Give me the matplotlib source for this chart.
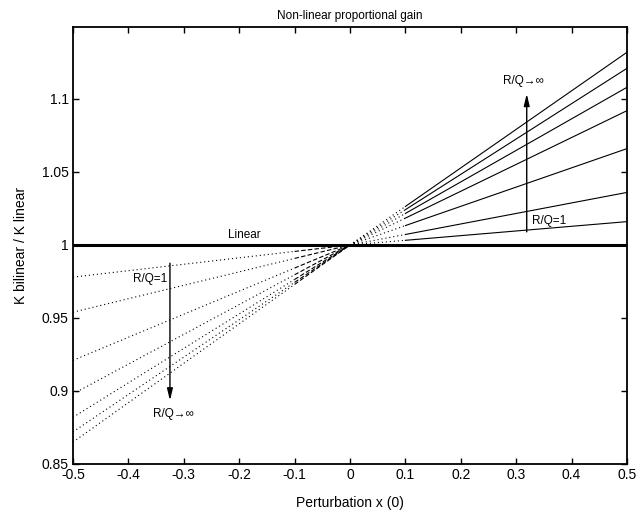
import matplotlib
matplotlib.use("Agg")
import matplotlib.pyplot as plt

plt.rcParams['font.family'] = ['Liberation Sans', 'DejaVu Sans']

# breakpoints along the perturbation axis
x_points = [-0.5, -0.1, 0.0, 0.1, 0.5]
# gain ratio of each curve (R/Q = 1 ... R/Q -> inf)
k_left_end = [0.978, 0.954, 0.921, 0.898, 0.882, 0.872, 0.865]   # x = -0.5
k_left_mid = [0.9956, 0.9908, 0.9842, 0.9796, 0.9764, 0.9744, 0.9730]  # x = -0.1
k_center = [1.0, 1.0, 1.0, 1.0, 1.0, 1.0, 1.0]                  # x = 0
k_right_mid = [1.0032, 1.0072, 1.0133, 1.0184, 1.0216, 1.0242, 1.0264]  # x = 0.1
k_right_end = [1.016, 1.036, 1.066, 1.092, 1.108, 1.121, 1.132]   # x = 0.5
linear_value = 1.0

x_ticks = [-0.5, -0.4, -0.3, -0.2, -0.1, 0, 0.1, 0.2, 0.3, 0.4, 0.5]
x_tick_labels = ['-0.5', '-0.4', '-0.3', '-0.2', '-0.1', '0', '0.1', '0.2', '0.3', '0.4', '0.5']
y_ticks = [0.85, 0.9, 0.95, 1.0, 1.05, 1.1]
y_tick_labels = ['0.85', '0.9', '0.95', '1', '1.05', '1.1']

fig = plt.figure(figsize=(6.38, 5.15), dpi=100)
ax = fig.add_axes([73/638, 1-464/515, (627-73)/638, (464-27)/515])

lw = 0.8
dot = (0, (1, 2.6))
dash = (0, (4, 2))
for i in range(len(k_center)):
    ax.plot([x_points[0], x_points[1]], [k_left_end[i], k_left_mid[i]], color='black', lw=lw, linestyle=dot)
    ax.plot([x_points[1], x_points[2]], [k_left_mid[i], k_center[i]], color='black', lw=lw, linestyle=dash)
    ax.plot([x_points[2], x_points[3]], [k_center[i], k_right_mid[i]], color='black', lw=lw, linestyle=dot)
    ax.plot([x_points[3], x_points[4]], [k_right_mid[i], k_right_end[i]], color='black', lw=lw, linestyle='-')

ax.plot([x_points[0], x_points[-1]], [linear_value, linear_value], color='black', lw=2.2)

ax.set_xlim(-0.5, 0.5)
ax.set_ylim(0.85, 1.1493)
ax.set_xticks(x_ticks)
ax.set_xticklabels(x_tick_labels)
ax.set_yticks(y_ticks)
ax.set_yticklabels(y_tick_labels)
ax.tick_params(direction='in', length=4, width=1, top=True, right=True, labelsize=10, pad=3)
for s in ax.spines.values():
    s.set_linewidth(1.3)

ax.set_xlabel('Perturbation x (0)', fontsize=10, labelpad=10)
ax.set_ylabel('K bilinear / K linear', fontsize=10, labelpad=10)
ax.set_title('Non-linear proportional gain', fontsize=8.5, pad=6)

fs = 8.5
ax.text(-0.19, 1.003, 'Linear', fontsize=fs, ha='center', va='bottom')

arrow = dict(arrowstyle='-|>,head_length=0.7,head_width=0.17', color='black', lw=1, shrinkA=0, shrinkB=0)
# right annotations
ax.annotate('', xy=(0.319, 1.1035), xytext=(0.319, 1.009), arrowprops=arrow)
ax.text(0.276, 1.112, 'R/Q\u2192\u221e', fontsize=fs, ha='left', va='center')
ax.text(0.329, 1.0167, 'R/Q=1', fontsize=fs, ha='left', va='center')

# left annotations
ax.annotate('', xy=(-0.325, 0.8935), xytext=(-0.325, 0.9875), arrowprops=arrow)
ax.text(-0.392, 0.977, 'R/Q=1', fontsize=fs, ha='left', va='center')
ax.text(-0.356, 0.884, 'R/Q\u2192\u221e', fontsize=fs, ha='left', va='center')

fig.savefig('out.png', dpi=100)
